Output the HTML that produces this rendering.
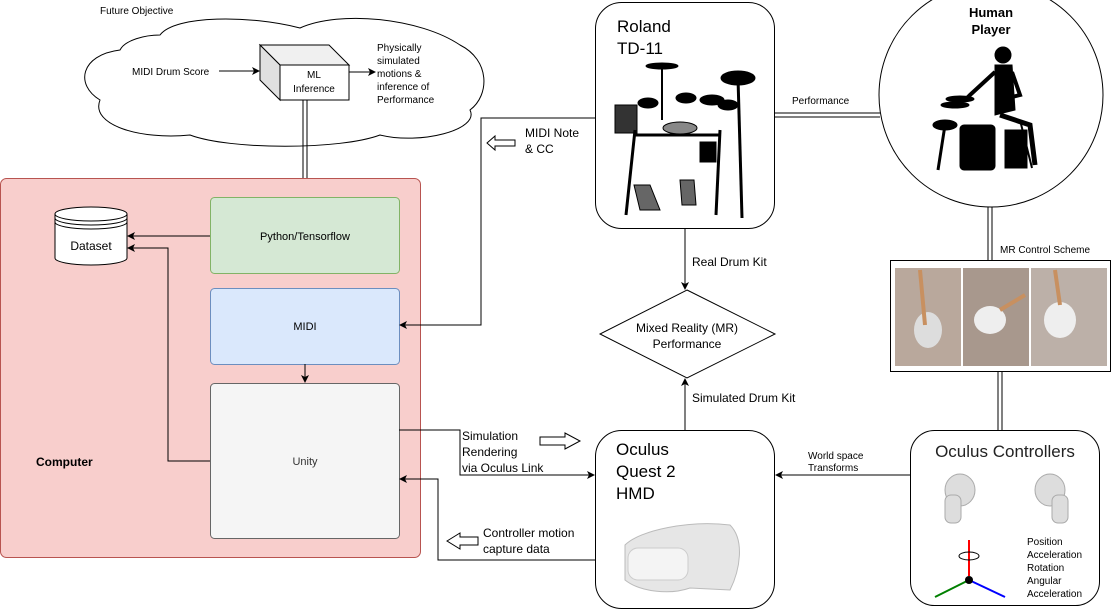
<!DOCTYPE html>
<html><head><meta charset="utf-8"><style>
body{margin:0;background:#fff;}
svg{display:block;font-family:"Liberation Sans",Arial,sans-serif;}
</style></head><body>
<svg width="1111" height="612" viewBox="0 0 1111 612" xmlns="http://www.w3.org/2000/svg">
<defs>
<marker id="a" markerWidth="8" markerHeight="8" refX="7" refY="4" orient="auto" markerUnits="userSpaceOnUse"><path d="M0,0 L8,4 L0,8 L2,4 Z" fill="#000"/></marker>
</defs>
<!-- cloud -->
<path d="M160,35 C175,15 250,15 300,28 C340,10 420,18 460,45 C490,60 490,95 470,110 C480,130 420,145 380,135 C340,150 230,150 190,135 C140,140 90,125 100,100 C75,85 80,55 120,50 C125,40 145,35 160,35 Z" fill="#fff" stroke="#000"/>
<text x="100" y="14" font-size="10">Future Objective</text>
<text x="132" y="75" font-size="10">MIDI Drum Score</text>
<line x1="219" y1="71" x2="259" y2="71" stroke="#000" marker-end="url(#a)"/>
<polygon points="260,45 329,45 349,65 280,65" fill="#f0f0f0" stroke="#000"/>
<polygon points="260,45 280,65 280,100 260,80" fill="#e0e0e0" stroke="#000"/>
<rect x="280" y="65" width="69" height="35" fill="#fff" stroke="#000"/>
<text x="314" y="78" font-size="10" text-anchor="middle">ML</text>
<text x="314" y="92" font-size="10" text-anchor="middle">Inference</text>
<line x1="349" y1="72" x2="375" y2="72" stroke="#000" marker-end="url(#a)"/>
<text font-size="10"><tspan x="377" y="51">Physically</tspan><tspan x="377" y="64">simulated</tspan><tspan x="377" y="77">motions &amp;</tspan><tspan x="377" y="90">inference of</tspan><tspan x="377" y="103">Performance</tspan></text>
<line x1="303" y1="100" x2="303" y2="197" stroke="#000"/><line x1="307" y1="100" x2="307" y2="197" stroke="#000"/>
<!-- computer -->
<rect x="0.5" y="178.5" width="420" height="379" rx="6" fill="#f8cecc" stroke="#b85450"/>
<text x="36" y="466" font-size="12" font-weight="bold">Computer</text>
<rect x="210.5" y="197.5" width="189" height="76" rx="4" fill="#d5e8d4" stroke="#82b366"/>
<text x="305" y="240" font-size="11" text-anchor="middle">Python/Tensorflow</text>
<rect x="210.5" y="288.5" width="189" height="76" rx="4" fill="#dae8fc" stroke="#6c8ebf"/>
<text x="305" y="330" font-size="11" text-anchor="middle">MIDI</text>
<rect x="210.5" y="383.5" width="189" height="155" rx="4" fill="#f5f5f5" stroke="#666"/>
<text x="305" y="465" font-size="11" text-anchor="middle" fill="#333">Unity</text>
<line x1="305" y1="364" x2="305" y2="382" stroke="#000" marker-end="url(#a)"/>
<!-- dataset -->
<path d="M55,214 L55,258 A36,7 0 0 0 127,258 L127,214" fill="#fff" stroke="#000"/>
<ellipse cx="91" cy="214" rx="36" ry="7" fill="#fff" stroke="#000"/>
<path d="M55,218 A36,7 0 0 0 127,218 M55,222 A36,7 0 0 0 127,222" fill="none" stroke="#000"/>
<text x="91" y="250" font-size="12" text-anchor="middle">Dataset</text>
<line x1="210" y1="236" x2="128" y2="236" stroke="#000" marker-end="url(#a)"/>
<polyline points="210,461 168,461 168,248 128,248" fill="none" stroke="#000" marker-end="url(#a)"/>
<!-- roland -->
<rect x="595.5" y="2.5" width="179" height="226" rx="26" fill="#fff" stroke="#000"/>
<text x="617" y="32" font-size="17">Roland</text><text x="617" y="54" font-size="17">TD-11</text>
<g stroke="#000" fill="#000">
<ellipse cx="662" cy="66" rx="16" ry="3"/><ellipse cx="738" cy="78" rx="17" ry="7"/>
<line x1="662" y1="66" x2="662" y2="120" stroke-width="2"/>
<line x1="738" y1="78" x2="742" y2="218" stroke-width="3"/>
<ellipse cx="648" cy="103" rx="10" ry="5"/><ellipse cx="686" cy="98" rx="10" ry="5"/><ellipse cx="712" cy="100" rx="12" ry="5"/><ellipse cx="728" cy="105" rx="10" ry="5"/>
<ellipse cx="680" cy="128" rx="17" ry="6" fill="#888"/>
<rect x="615" y="105" width="22" height="28" fill="#333"/>
<line x1="635" y1="130" x2="626" y2="215" stroke-width="3"/>
<line x1="720" y1="130" x2="716" y2="215" stroke-width="3"/>
<line x1="635" y1="135" x2="720" y2="135" stroke-width="3"/>
<rect x="700" y="142" width="16" height="20"/>
<polygon points="634,185 650,185 660,210 640,210" fill="#666"/>
<polygon points="680,180 694,180 696,205 682,205" fill="#666"/>
</g>
<!-- MIDI connection -->
<polyline points="595,118 481,118 481,325 400,325" fill="none" stroke="#000" marker-end="url(#a)"/>
<polygon points="487,143 495,136 495,140 515,140 515,146 495,146 495,150" fill="#fff" stroke="#000"/>
<text font-size="12"><tspan x="525" y="137">MIDI Note</tspan><tspan x="525" y="153">&amp; CC</tspan></text>
<!-- Human -->
<circle cx="991" cy="95" r="112" fill="#fff" stroke="#000"/>
<text x="991" y="17" font-size="13" font-weight="bold" text-anchor="middle">Human</text>
<text x="991" y="34" font-size="13" font-weight="bold" text-anchor="middle">Player</text>
<g fill="#000" stroke="#000">
<circle cx="1003" cy="55" r="8"/>
<path d="M995,65 L1012,65 L1015,110 L995,115 Z"/>
<path d="M995,72 L970,95 L965,100" stroke-width="4" fill="none"/>
<path d="M1012,72 L1020,95 L1000,100" stroke-width="4" fill="none"/>
<rect x="960" y="125" width="35" height="45" rx="4"/>
<path d="M1000,115 L1030,125 L1035,165" stroke-width="5" fill="none"/>
<ellipse cx="955" cy="105" rx="14" ry="3"/><ellipse cx="960" cy="99" rx="14" ry="3"/>
<ellipse cx="945" cy="125" rx="12" ry="5"/>
<line x1="945" y1="125" x2="938" y2="170" stroke-width="3"/>
<rect x="1005" y="130" width="22" height="38"/>
<line x1="1020" y1="120" x2="1032" y2="168" stroke-width="2"/>
</g>
<line x1="774" y1="113" x2="880" y2="113" stroke="#000"/><line x1="774" y1="117" x2="880" y2="117" stroke="#000"/>
<text x="792" y="104" font-size="10">Performance</text>
<line x1="988" y1="207" x2="988" y2="260" stroke="#000"/><line x1="992" y1="207" x2="992" y2="260" stroke="#000"/>
<text x="1000" y="253" font-size="10">MR Control Scheme</text>
<!-- MR image -->
<rect x="890.5" y="260.5" width="220" height="111" fill="#fff" stroke="#000"/>
<rect x="895" y="268" width="66" height="98" fill="#b9a89c"/>
<rect x="963" y="268" width="66" height="98" fill="#a8988d"/>
<rect x="1031" y="268" width="76" height="98" fill="#bcb0a8"/>
<ellipse cx="928" cy="330" rx="14" ry="18" fill="#ddd"/><line x1="920" y1="270" x2="925" y2="325" stroke="#c89060" stroke-width="4"/>
<ellipse cx="990" cy="320" rx="16" ry="14" fill="#eee"/><line x1="1000" y1="310" x2="1025" y2="295" stroke="#c89060" stroke-width="4"/>
<ellipse cx="1060" cy="320" rx="16" ry="18" fill="#eee"/><line x1="1055" y1="270" x2="1060" y2="305" stroke="#c89060" stroke-width="4"/>
<line x1="998" y1="371" x2="998" y2="430" stroke="#000"/><line x1="1002" y1="371" x2="1002" y2="430" stroke="#000"/>
<!-- diamond -->
<polygon points="687,290 775,334 687,378 600,334" fill="#fff" stroke="#000"/>
<text x="687" y="332" font-size="12" text-anchor="middle">Mixed Reality (MR)</text>
<text x="687" y="348" font-size="12" text-anchor="middle">Performance</text>
<line x1="685" y1="228" x2="685" y2="289" stroke="#000" marker-end="url(#a)"/>
<text x="692" y="266" font-size="12">Real Drum Kit</text>
<line x1="685" y1="430" x2="685" y2="379" stroke="#000" marker-end="url(#a)"/>
<text x="692" y="402" font-size="12">Simulated Drum Kit</text>
<!-- Quest -->
<rect x="595.5" y="430.5" width="179" height="178" rx="26" fill="#fff" stroke="#000"/>
<text font-size="17"><tspan x="616" y="455">Oculus</tspan><tspan x="616" y="477">Quest 2</tspan><tspan x="616" y="499">HMD</tspan></text>
<path d="M625,545 C640,530 690,520 730,525 C745,540 740,570 730,590 L690,588 C670,595 640,592 625,580 Z" fill="#e6e6e6" stroke="#bbb"/>
<rect x="628" y="548" width="60" height="32" rx="10" fill="#f4f4f4" stroke="#ccc"/>
<!-- controllers -->
<rect x="910.5" y="430.5" width="189" height="175" rx="24" fill="#fff" stroke="#000"/>
<text x="1005" y="457" font-size="17" text-anchor="middle" fill="#222">Oculus Controllers</text>
<g fill="#ddd" stroke="#aaa"><ellipse cx="960" cy="490" rx="15" ry="16"/><rect x="945" y="495" width="16" height="28" rx="6"/>
<ellipse cx="1050" cy="490" rx="15" ry="16"/><rect x="1052" y="495" width="16" height="28" rx="6"/></g>
<line x1="969" y1="576" x2="969" y2="540" stroke="red" stroke-width="2"/>
<line x1="969" y1="580" x2="935" y2="597" stroke="green" stroke-width="2"/>
<line x1="969" y1="580" x2="1005" y2="597" stroke="blue" stroke-width="2"/>
<circle cx="969" cy="580" r="4"/>
<ellipse cx="969" cy="556" rx="10" ry="4" fill="none" stroke="#000"/>
<text font-size="10"><tspan x="1027" y="545">Position</tspan><tspan x="1027" y="558">Acceleration</tspan><tspan x="1027" y="571">Rotation</tspan><tspan x="1027" y="584">Angular</tspan><tspan x="1027" y="597">Acceleration</tspan></text>
<line x1="910" y1="475" x2="776" y2="475" stroke="#000" marker-end="url(#a)"/>
<text font-size="10"><tspan x="808" y="459">World space</tspan><tspan x="808" y="471">Transforms</tspan></text>
<!-- unity to quest -->
<polyline points="399,430 460,430 460,475 594,475" fill="none" stroke="#000" marker-end="url(#a)"/>
<text font-size="12"><tspan x="462" y="440">Simulation</tspan><tspan x="462" y="456">Rendering</tspan><tspan x="462" y="472">via Oculus Link</tspan></text>
<polygon points="540,437 565,437 565,433 580,441 565,449 565,445 540,445" fill="#fff" stroke="#000"/>
<polyline points="595,560 438,560 438,479 400,479" fill="none" stroke="#000" marker-end="url(#a)"/>
<text font-size="12"><tspan x="483" y="537">Controller motion</tspan><tspan x="483" y="553">capture data</tspan></text>
<polygon points="447,541 460,533 460,537 478,537 478,545 460,545 460,549" fill="#fff" stroke="#000"/>
</svg>
</body></html>
